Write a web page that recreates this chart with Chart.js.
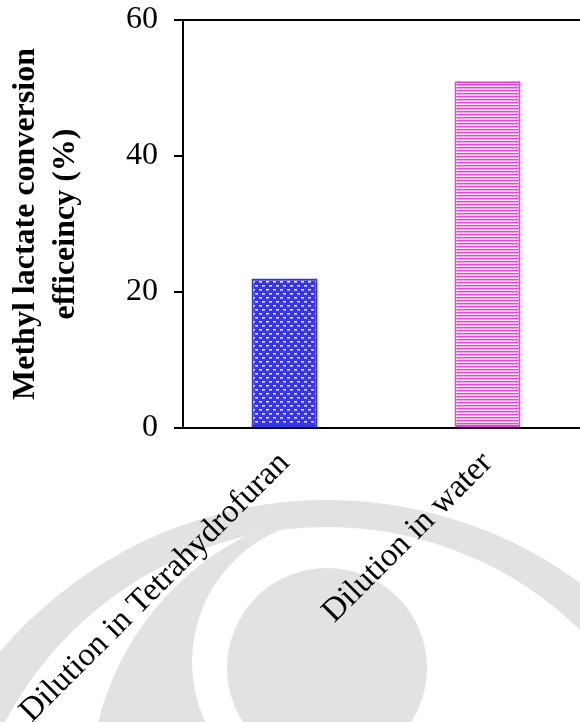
<!DOCTYPE html>
<html>
<head>
<meta charset="utf-8">
<script src="https://cdn.jsdelivr.net/npm/chart.js@4.4.1/dist/chart.umd.min.js"></script>
<style>
  html, body { margin: 0; padding: 0; background: #fff; overflow: hidden; }
  #wrap { width: 589px; height: 722px; position: relative; }
</style>
</head>
<body>
<div id="wrap"><canvas id="myChart"></canvas></div>
<script>
// conversion data
const categories = ['Dilution in Tetrahydrofuran', 'Dilution in water'];
const conversion = [22, 51];
const yTickValues = [0, 20, 40, 60];
const yTitle = ['Methyl lactate conversion', 'efficeincy (%)'];

const serif = "'Liberation Serif', 'Times New Roman', serif";

// blue bar: small white dashes in a brick layout
function brickPattern() {
    const c = document.createElement('canvas');
    c.width = 14; c.height = 8;
    const g = c.getContext('2d');
    g.fillStyle = '#3636f0';
    g.fillRect(0, 0, 14, 8);
    const dash = (x, y) => {
        g.fillStyle = '#ffffff';
        g.fillRect(x, y, 3, 1);
        g.fillStyle = '#a8a8fb';
        g.fillRect(x, y + 1, 3, 1);
    };
    dash(0, 1); dash(7, 1);
    dash(3, 5); dash(10, 5);
    return g.createPattern(c, 'repeat');
}

// magenta bar: thin horizontal stripes
function stripePattern() {
    const c = document.createElement('canvas');
    c.width = 4; c.height = 3;
    const g = c.getContext('2d');
    g.fillStyle = '#ffffff';
    g.fillRect(0, 0, 4, 3);
    g.fillStyle = '#f43ddc';
    g.fillRect(0, 0, 4, 1);
    g.fillStyle = '#fb9ff0';
    g.fillRect(0, 1, 4, 1);
    return g.createPattern(c, 'repeat');
}

// grey logo behind the plot
const watermark = {
    id: 'watermark',
    beforeDraw(chart) {
        const ctx = chart.ctx;
        ctx.save();
        ctx.fillStyle = '#ffffff';
        ctx.fillRect(0, 0, chart.width, chart.height);
        ctx.fillStyle = '#e2e2e2';
        ctx.beginPath();
        ctx.arc(327, 928, 428, 0, Math.PI * 2);
        ctx.arc(327, 890, 363, 0, Math.PI * 2);
        ctx.fill('evenodd');

        ctx.save();
        ctx.beginPath();
        ctx.rect(0, 0, 330, chart.height);
        ctx.clip();
        ctx.beginPath();
        ctx.arc(327, 890, 363, 0, Math.PI * 2);
        ctx.clip();
        ctx.beginPath();
        ctx.arc(375, 790, 285, 0, Math.PI * 2);
        ctx.arc(335, 662, 143, 0, Math.PI * 2);
        ctx.fill('evenodd');
        ctx.restore();

        ctx.beginPath();
        ctx.arc(327, 668, 100, 0, Math.PI * 2);
        ctx.fill();
        ctx.restore();
    }
};

function myLoadFunction() {
    const ctx = document.getElementById('myChart').getContext('2d');
    const myChartConfig = {
        type: 'bar',
        data: {
            labels: categories,
            datasets: [{
                label: 'Conversion',
                data: conversion,
                backgroundColor: [brickPattern(), stripePattern()],
                borderColor: ['#3434ee', '#f23cdc'],
                borderWidth: 2,
                borderSkipped: false,
                barPercentage: 0.325,
                categoryPercentage: 1
            }]
        },
        options: {
            responsive: true,
            maintainAspectRatio: false,
            animation: false,
            layout: { padding: { top: 20, right: 0, bottom: 0, left: 0 } },
            plugins: {
                legend: { display: false },
                tooltip: { enabled: false }
            },
            scales: {
                x: {
                    type: 'category',
                    position: 'bottom',
                    grid: { display: false, drawTicks: false },
                    border: { display: true, color: '#000', width: 2 },
                    ticks: {
                        color: '#000',
                        font: { family: serif, size: 33 },
                        maxRotation: 45,
                        minRotation: 45,
                        autoSkip: false,
                        padding: 16
                    },
                    afterFit(scale) {
                        scale.height = 294;
                        scale.paddingLeft = 0;
                        scale.paddingRight = 0;
                    }
                },
                xTop: {
                    type: 'category',
                    position: 'top',
                    grid: { display: false, drawTicks: false },
                    border: { display: true, color: '#000', width: 2 },
                    ticks: { display: false },
                    afterFit(scale) {
                        scale.height = 0;
                    }
                },
                y: {
                    min: 0,
                    max: 60,
                    afterBuildTicks(scale) {
                        scale.ticks = yTickValues.map(v => ({ value: v }));
                    },
                    grid: {
                        display: true,
                        drawOnChartArea: false,
                        drawTicks: true,
                        tickLength: 9,
                        color: '#000',
                        lineWidth: 2
                    },
                    border: { display: true, color: '#000', width: 2 },
                    ticks: {
                        color: '#000',
                        font: { family: serif, size: 32 },
                        padding: 16
                    },
                    title: {
                        display: true,
                        text: yTitle,
                        color: '#000',
                        font: { family: serif, size: 32, weight: 'bold', lineHeight: 1.25 },
                        padding: { top: 6, bottom: 0 }
                    },
                    afterFit(scale) {
                        scale.width = 183;
                        scale.paddingTop = 0;
                        scale.paddingBottom = 0;
                    }
                }
            }
        },
        plugins: [watermark]
    };
    const myChart = new Chart(ctx, myChartConfig);
}

document.addEventListener('DOMContentLoaded', myLoadFunction);
</script>
</body>
</html>
